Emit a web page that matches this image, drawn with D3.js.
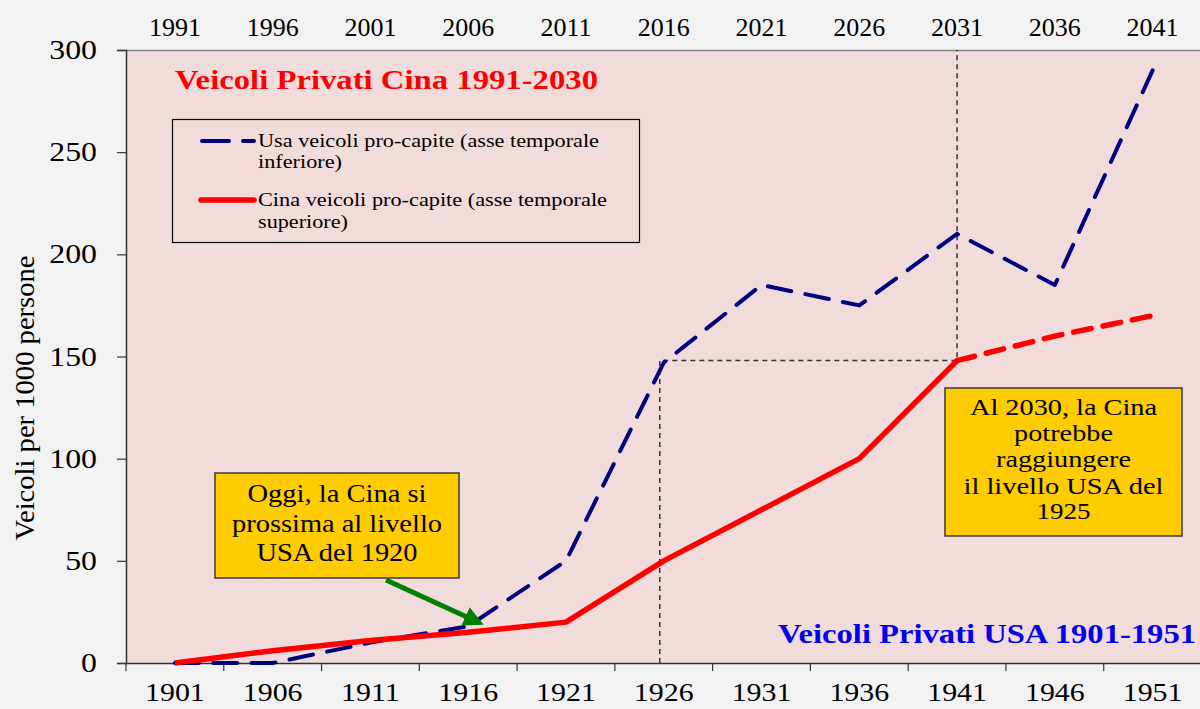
<!DOCTYPE html>
<html>
<head>
<meta charset="utf-8">
<script src="https://cdn.jsdelivr.net/npm/d3@7"></script>
<style>
  html, body { margin: 0; padding: 0; background: #F2F2F2; }
  svg { display: block; }
</style>
</head>
<body>
<svg id="chart" width="1200" height="709" font-family="Liberation Serif, serif"></svg>
<script>
// ---- data ----
const usaYears = ["1901","1906","1911","1916","1921","1926","1931","1936","1941","1946","1951"];
const chinaYears = ["1991","1996","2001","2006","2011","2016","2021","2026","2031","2036","2041"];
const usaValues = [0, 0, 10, 18, 50, 147, 185, 175, 210, 185, 290];
const chinaValues = [0, 6, 11, 15, 20, 50, 75, 100, 148, 160, 170];
const chinaForecastFrom = "2031";
const yTicks = [0, 50, 100, 150, 200, 250, 300];
const usaMarkYear = "1926";
const chinaMarkYear = "2031";
const titleChina = "Veicoli Privati Cina 1991-2030";
const titleUsa = "Veicoli Privati USA 1901-1951";
const yLabel = "Veicoli per 1000 persone";
const legendLabels = [["Usa veicoli pro-capite (asse temporale", "inferiore)"],
                      ["Cina veicoli pro-capite (asse temporale", "superiore)"]];
const note1 = ["Oggi, la Cina si", "prossima al livello", "USA del 1920"];
const note2 = ["Al 2030, la Cina", "potrebbe", "raggiungere", "il livello USA del", "1925"];

// ---- layout ----
const FONT = "Liberation Serif, serif";
const svg = d3.select("#chart");
const L = 126, R = 1201.5, T = 50, B = 663;

const xBottom = d3.scaleBand().domain(usaYears).range([L, R]);
const xTop = d3.scaleBand().domain(chinaYears).range([L, R]);
const y = d3.scaleLinear().domain([0, 300]).range([B, T]);
const cxB = d => xBottom(d) + xBottom.bandwidth() / 2;
const cxT = d => xTop(d) + xTop.bandwidth() / 2;

function stretch(sel, factor) {
  sel.each(function () {
    const w = this.getComputedTextLength();
    d3.select(this).attr("textLength", w * factor).attr("lengthAdjust", "spacingAndGlyphs");
  });
}

// plot background
svg.append("rect").attr("x", L).attr("y", T).attr("width", R - L).attr("height", B - T)
  .attr("fill", "#F2DCDB");

// top border
svg.append("line").attr("x1", L).attr("x2", R).attr("y1", T + 0.5).attr("y2", T + 0.5)
  .attr("stroke", "#808080").attr("stroke-width", 1.5);

// bottom axis
const gB = svg.append("g").attr("transform", `translate(0,${B})`)
  .call(d3.axisBottom(xBottom).tickSize(0).tickPadding(20));
gB.attr("font-family", FONT);
gB.select(".domain").attr("stroke", "#333").attr("stroke-width", 1.5);
gB.selectAll("text").attr("font-size", 26).attr("fill", "#000");
stretch(gB.selectAll("text"), 1.15);
// tick marks at band boundaries
const bounds = usaYears.map(d => xBottom(d)).concat([R]);
svg.append("g").selectAll("line").data(bounds).join("line")
  .attr("x1", d => d).attr("x2", d => d).attr("y1", B).attr("y2", B + 8)
  .attr("stroke", "#333").attr("stroke-width", 1.2);

// top axis labels
const gT = svg.append("g").attr("transform", `translate(0,${T})`)
  .call(d3.axisTop(xTop).tickSize(0).tickPadding(14));
gT.attr("font-family", FONT);
gT.select(".domain").remove();
gT.selectAll("text").attr("font-size", 25).attr("fill", "#000");
stretch(gT.selectAll("text"), 1.04);

// left axis
const gL = svg.append("g").attr("transform", `translate(${L},0)`)
  .call(d3.axisLeft(y).tickValues(yTicks).tickSize(9).tickPadding(20));
gL.attr("font-family", FONT);
gL.select(".domain").attr("stroke", "#333").attr("stroke-width", 1.5);
gL.selectAll(".tick line").attr("stroke", "#333").attr("stroke-width", 1.2);
gL.selectAll("text").attr("font-size", 27).attr("fill", "#000");
stretch(gL.selectAll("text"), 1.18);

// y label
svg.append("text").attr("transform", "translate(34,398) rotate(-90)")
  .attr("text-anchor", "middle").attr("font-size", 27).attr("fill", "#000").text(yLabel)
  .attr("textLength", 285).attr("lengthAdjust", "spacingAndGlyphs");

// reference dashed lines
const chinaMarkVal = chinaValues[chinaYears.indexOf(chinaMarkYear)];
const ref = svg.append("g").attr("stroke", "#333").attr("stroke-width", 1.5)
  .attr("stroke-dasharray", "5,4").attr("fill", "none");
ref.append("path").attr("d", `M${cxB(usaMarkYear) - 4},${B} V${y(chinaMarkVal)} H${cxT(chinaMarkYear)} V${T}`);

// USA line (dash pattern fitted so the line ends on a dash)
const usaData = usaYears.map((d, i) => [cxB(d), y(usaValues[i])]);
const usaPath = svg.append("path").attr("d", d3.line()(usaData))
  .attr("fill", "none").attr("stroke", "#000080").attr("stroke-width", 4)
  .attr("stroke-linecap", "round").attr("stroke-linejoin", "round");
{
  const len = usaPath.node().getTotalLength();
  const dash = 24;
  const n = Math.round((len - dash) / 38);
  const gap = (len - dash) / n - dash;
  usaPath.attr("stroke-dasharray", `${dash},${gap}`);
}

// China line
const split = chinaYears.indexOf(chinaForecastFrom);
const chinaData = chinaYears.map((d, i) => [cxT(d), y(chinaValues[i])]);
svg.append("path").attr("d", d3.line()(chinaData.slice(0, split + 1)))
  .attr("fill", "none").attr("stroke", "#FF0000").attr("stroke-width", 5.5)
  .attr("stroke-linejoin", "round");
svg.append("path").attr("d", d3.line()(chinaData.slice(split)))
  .attr("fill", "none").attr("stroke", "#FF0000").attr("stroke-width", 5.5)
  .attr("stroke-linecap", "round").attr("stroke-dasharray", "18,12");

// titles
svg.append("text").attr("x", 175).attr("y", 89).attr("font-size", 28).attr("font-weight", "bold")
  .attr("fill", "#FF0000").text(titleChina)
  .attr("textLength", 423).attr("lengthAdjust", "spacingAndGlyphs");
svg.append("text").attr("x", 778).attr("y", 643).attr("font-size", 28)
  .attr("font-weight", "bold").attr("fill", "#0000EE").text(titleUsa)
  .attr("textLength", 418).attr("lengthAdjust", "spacingAndGlyphs");

// legend
const lg = svg.append("g");
lg.append("rect").attr("x", 172.5).attr("y", 119.5).attr("width", 467).attr("height", 123)
  .attr("fill", "none").attr("stroke", "#000").attr("stroke-width", 1.2);
lg.append("line").attr("x1", 202).attr("x2", 254).attr("y1", 141).attr("y2", 141)
  .attr("stroke", "#000080").attr("stroke-width", 4).attr("stroke-linecap", "round")
  .attr("stroke-dasharray", "27,14");
lg.append("line").attr("x1", 201).attr("x2", 254).attr("y1", 200).attr("y2", 200)
  .attr("stroke", "#FF0000").attr("stroke-width", 5.5).attr("stroke-linecap", "round");
const legendBase = [[147, 168], [206, 228]];
const legendWidths = [[341, 84], [349, 90]];
legendLabels.forEach((lines, i) => {
  lines.forEach((s, j) => {
    lg.append("text").attr("x", 258).attr("y", legendBase[i][j]).attr("font-size", 19)
      .attr("fill", "#000").text(s)
      .attr("textLength", legendWidths[i][j]).attr("lengthAdjust", "spacingAndGlyphs");
  });
});

// note boxes
function noteBox(x, yy, w, h, lines, baselines, widths, fs) {
  const g = svg.append("g");
  g.append("rect").attr("x", x).attr("y", yy).attr("width", w).attr("height", h)
    .attr("fill", "#FFCC00").attr("stroke", "#3a3a3a").attr("stroke-width", 1.5);
  lines.forEach((s, j) => g.append("text").attr("text-anchor", "middle").attr("font-size", fs)
    .attr("fill", "#000").attr("x", x + w / 2).attr("y", baselines[j]).text(s)
    .attr("textLength", widths[j]).attr("lengthAdjust", "spacingAndGlyphs"));
}
noteBox(215, 473, 244, 105, note1, [502, 531.5, 560.5], [179, 210, 161], 24.5);
noteBox(945, 388, 237, 148, note2, [415, 441, 467, 494, 519], [187, 99, 135, 200, 54], 23.5);

// green arrow
const defs = svg.append("defs");
defs.append("marker").attr("id", "arr").attr("viewBox", "0 0 10 10").attr("refX", 8).attr("refY", 5)
  .attr("markerWidth", 4).attr("markerHeight", 4).attr("orient", "auto")
  .append("path").attr("d", "M0,0 L10,5 L0,10 Z").attr("fill", "#008000");
svg.append("line").attr("x1", 386).attr("y1", 580).attr("x2", 480).attr("y2", 623)
  .attr("stroke", "#008000").attr("stroke-width", 5).attr("marker-end", "url(#arr)");
</script>
</body>
</html>
